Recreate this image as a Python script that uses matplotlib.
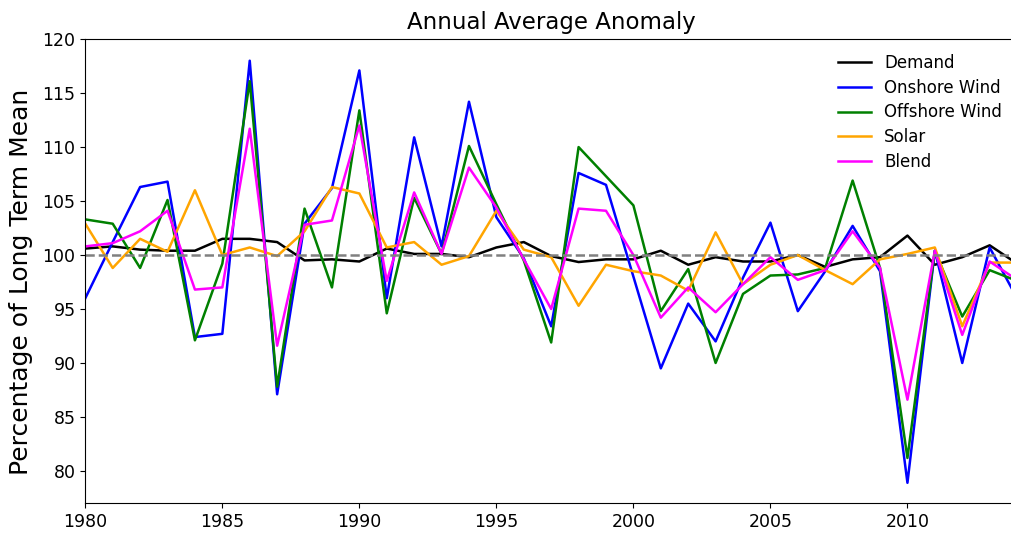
import matplotlib.pyplot as plt

# Annual anomaly as % of the long term mean, 1980-2014
years = list(range(1980, 2015))

demand = [100.6, 100.8, 100.5, 100.4, 100.4, 101.5, 101.5, 101.2, 99.5, 99.6,
          99.4, 100.6, 100.1, 100.1, 99.8, 100.7, 101.2, 99.9, 99.35, 99.6,
          99.6, 100.4, 99.1, 99.8, 99.4, 99.4, 100.0, 98.9, 99.6, 99.8,
          101.8, 99.1, 99.8, 100.9, 99.2]

onshore = [96.0, 101.2, 106.3, 106.8, 92.4, 92.7, 118.0, 87.1, 102.9, 106.2,
           117.1, 96.0, 110.9, 100.8, 114.2, 103.5, 99.7, 93.4, 107.6, 106.5,
           98.0, 89.5, 95.5, 92.0, 97.9, 103.0, 94.8, 98.5, 102.7, 98.5,
           78.9, 100.4, 90.0, 100.7, 96.0]

offshore = [103.3, 102.9, 98.8, 105.1, 92.1, 99.2, 116.1, 87.8, 104.3, 97.0,
            113.4, 94.6, 105.3, 100.1, 110.1, 104.7, 99.5, 91.9, 110.0, 107.3,
            104.6, 94.8, 98.7, 90.0, 96.4, 98.1, 98.2, 98.8, 106.9, 98.8,
            81.2, 100.4, 94.3, 98.6, 97.6]

solar = [102.9, 98.8, 101.5, 100.3, 106.0, 100.0, 100.7, 99.9, 102.2, 106.3,
         105.7, 100.7, 101.2, 99.1, 99.9, 104.1, 100.5, 99.8, 95.3, 99.1,
         98.5, 98.1, 96.7, 102.1, 97.3, 99.1, 100.0, 98.6, 97.3, 99.6,
         100.1, 100.7, 93.4, 99.3, 99.3]

blend = [100.8, 101.1, 102.2, 104.1, 96.8, 97.0, 111.7, 91.6, 102.8, 103.2,
         112.0, 97.6, 105.8, 100.1, 108.1, 104.4, 99.6, 95.0, 104.3, 104.1,
         100.0, 94.2, 97.0, 94.7, 97.3, 99.8, 97.7, 98.6, 102.2, 98.8,
         86.6, 100.4, 92.6, 99.4, 97.7]

fig = plt.figure(figsize=(10.12, 5.36), dpi=100)
ax = fig.add_axes([0.0843, 0.061, 0.9207, 0.866])

ax.plot(years, demand, color='black', lw=1.8, label='Demand')
ax.plot(years, onshore, color='blue', lw=1.8, label='Onshore Wind')
ax.plot(years, offshore, color='green', lw=1.8, label='Offshore Wind')
ax.plot(years, solar, color='orange', lw=1.8, label='Solar')
ax.plot(years, blend, color='magenta', lw=1.8, label='Blend')
ax.axhline(100, color='gray', ls='--', lw=1.8)

ax.set_xlim(1980, 2014)
ax.set_ylim(77, 120)
ax.spines['right'].set_visible(False)
ax.set_title('Annual Average Anomaly', fontsize=16.5, pad=7)
ax.set_ylabel('Percentage of Long Term Mean', fontsize=18)
ax.yaxis.set_label_coords(-0.056, 0.477)
ax.tick_params(labelsize=12.5)
ax.legend(loc='upper right', frameon=False, fontsize=12, labelspacing=0.4)

fig.savefig('out.png', dpi=100)
